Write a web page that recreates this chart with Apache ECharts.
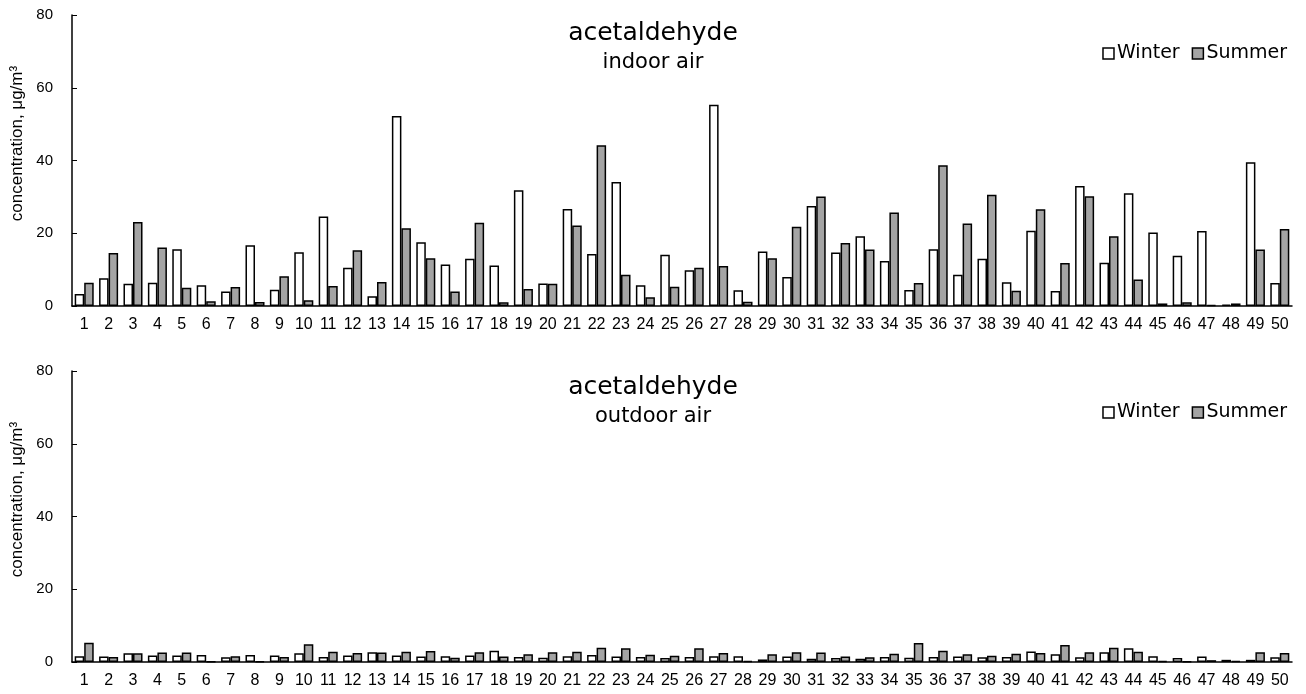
<!DOCTYPE html>
<html>
<head>
<meta charset="utf-8">
<script src="https://cdn.jsdelivr.net/npm/echarts@6/dist/echarts.min.js"></script>
<style>html,body{margin:0;padding:0;background:#fff;}#c{width:1306px;height:694px;}</style>
</head>
<body>
<div id="c"></div>
<script>
const categories = Array.from({length: 50}, (_, i) => String(i + 1));
const yTicks = [0, 20, 40, 60, 80];

const indoorWinter = [3.3, 7.6, 6.1, 6.4, 15.6, 5.7, 4.0, 16.7, 4.5, 14.8,
  24.6, 10.5, 2.7, 52.2, 17.5, 11.4, 13.0, 11.1, 31.8, 6.2,
  26.7, 14.3, 34.1, 5.7, 14.1, 9.8, 55.3, 4.3, 15.0, 8.0,
  27.5, 14.7, 19.2, 12.4, 4.4, 15.6, 8.6, 13.0, 6.5, 20.7,
  4.1, 33.0, 11.9, 31.0, 20.2, 13.8, 20.6, 0.4, 39.5, 6.3];
const indoorSummer = [6.4, 14.6, 23.1, 16.1, 5.0, 1.3, 5.2, 1.1, 8.2, 1.6,
  5.5, 15.3, 6.6, 21.4, 13.1, 4.0, 22.9, 1.0, 4.7, 6.1,
  22.1, 44.2, 8.6, 2.4, 5.3, 10.5, 11.0, 1.2, 13.1, 21.8,
  30.1, 17.3, 15.5, 25.7, 6.3, 38.7, 22.7, 30.6, 4.2, 26.6,
  11.8, 30.2, 19.2, 7.3, 0.7, 1.0, 0.3, 0.7, 15.5, 21.2];
const outdoorWinter = [1.6, 1.5, 2.4, 1.8, 1.8, 1.9, 1.3, 1.9, 1.8, 2.4,
  1.4, 1.8, 2.7, 1.8, 1.5, 1.6, 1.8, 3.1, 1.4, 1.2,
  1.6, 1.9, 1.5, 1.4, 1.1, 1.4, 1.6, 1.6, 0.7, 1.5,
  0.9, 1.1, 0.9, 1.4, 1.2, 1.4, 1.5, 1.3, 1.4, 2.9,
  2.1, 1.3, 2.7, 3.8, 1.6, 1.1, 1.5, 0.6, 0.6, 1.3];
const outdoorSummer = [5.3, 1.4, 2.4, 2.6, 2.6, 0.1, 1.6, 0.2, 1.4, 4.9,
  2.8, 2.5, 2.6, 2.8, 3.0, 1.2, 2.7, 1.5, 2.1, 2.7,
  2.8, 3.9, 3.8, 2.0, 1.7, 3.8, 2.5, 0.3, 2.1, 2.7,
  2.6, 1.5, 1.3, 2.3, 5.2, 3.1, 2.1, 1.7, 2.3, 2.5,
  4.7, 2.7, 3.9, 2.8, 0.3, 0.2, 0.5, 0.3, 2.7, 2.5];

const FONT = 'Liberation Sans';
const WIDE = 'DejaVu Sans';
const winterStyle = {color: '#ffffff', borderColor: '#000', borderWidth: 1.5};
const summerStyle = {color: '#a4a4a4', borderColor: '#000', borderWidth: 1.5};

function xAx(gridIndex) {
  return {
    type: 'category', gridIndex, data: categories,
    axisLine: {lineStyle: {color: '#000', width: 1.5}},
    axisTick: {show: false},
    axisLabel: {interval: 0, color: '#000', fontFamily: FONT, fontSize: 16, margin: 11}
  };
}
function yAx(gridIndex) {
  return {
    type: 'value', gridIndex, min: yTicks[0], max: yTicks[yTicks.length - 1], interval: 20,
    name: 'concentration, μg/m³', nameLocation: 'middle', nameGap: 45,
    nameTextStyle: {color: '#000', fontFamily: FONT, fontSize: 17, padding: [0, 0, 0, 34]},
    axisLine: {show: true, lineStyle: {color: '#000', width: 1.5}},
    axisTick: {show: true, inside: true, length: 5, lineStyle: {color: '#000'}},
    splitLine: {show: false},
    axisLabel: {color: '#000', fontFamily: FONT, fontSize: 15, margin: 19}
  };
}
function legend(top) {
  return {
    right: 14, top, itemWidth: 11, itemHeight: 11, itemGap: 12,
    icon: 'rect',
    textStyle: {color: '#000', fontFamily: WIDE, fontSize: 19, padding: [0, 0, 0, -2]},
    data: [{name: 'Winter', itemStyle: winterStyle}, {name: 'Summer', itemStyle: summerStyle}]
  };
}
function title(top, sub) {
  return {
    text: 'acetaldehyde', subtext: sub, left: 'center', top, itemGap: 6,
    textStyle: {color: '#000', fontFamily: WIDE, fontSize: 25, fontWeight: 'normal'},
    subtextStyle: {color: '#000', fontFamily: WIDE, fontSize: 21}
  };
}
function bar(name, data, idx, style) {
  return {
    name, type: 'bar', data, xAxisIndex: idx, yAxisIndex: idx,
    barGap: '0%', barCategoryGap: '22%', itemStyle: style, animation: false
  };
}

const chart = echarts.init(document.getElementById('c'));
chart.setOption({
  animation: false,
  title: [title(16, 'indoor air'), title(370, 'outdoor air')],
  legend: [legend(39), legend(398)],
  grid: [
    {left: 72, right: 14, top: 15, height: 291},
    {left: 72, right: 14, top: 371, height: 291}
  ],
  xAxis: [xAx(0), xAx(1)],
  yAxis: [yAx(0), yAx(1)],
  series: [
    bar('Winter', indoorWinter, 0, winterStyle),
    bar('Summer', indoorSummer, 0, summerStyle),
    bar('Winter', outdoorWinter, 1, winterStyle),
    bar('Summer', outdoorSummer, 1, summerStyle)
  ]
});
</script>
</body>
</html>
